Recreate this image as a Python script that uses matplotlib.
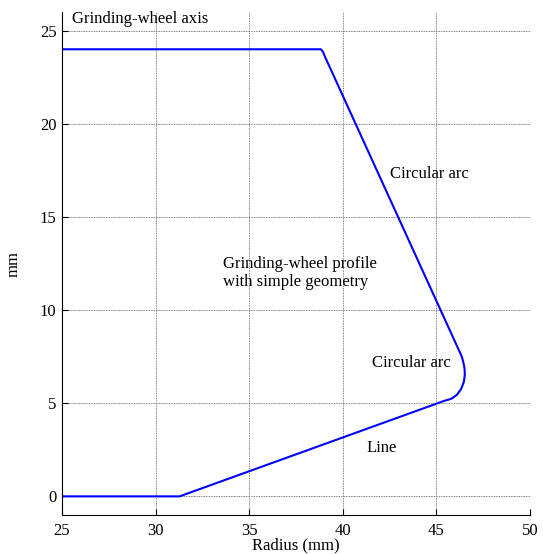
import matplotlib
matplotlib.use("Agg")
import matplotlib.pyplot as plt

plt.rcParams['font.family'] = ['Liberation Serif', 'DejaVu Serif']

# Profile points (radius mm, height mm)
profile_x = [25.0, 38.83, 38.95, 39.05, 46.36, 46.44, 46.50, 46.52, 46.47, 46.33, 46.10, 45.80, 45.40, 31.28, 25.0]
profile_y = [24.0, 24.0, 23.85, 23.6, 7.5, 7.2, 6.9, 6.55, 6.15, 5.78, 5.45, 5.24, 5.12, 0.0, 0.0]

x_ticks = [25, 30, 35, 40, 45, 50]
y_ticks = [0, 5, 10, 15, 20, 25]

fig = plt.figure(figsize=(5.43, 5.54), dpi=100)
ax = fig.add_axes([0.1142, 0.0704, 0.8618, 0.9079])
ax.plot(profile_x, profile_y, color='#0000ff', lw=1.5)

ax.set_xlim(25, 50)
ax.set_ylim(-1, 26)
ax.set_xticks(x_ticks)
ax.set_yticks(y_ticks)
ax.grid(True, color='0.35', ls=(0, (1, 1)), lw=0.6)
ax.spines['top'].set_visible(False)
ax.spines['right'].set_visible(False)
ax.tick_params(direction='in', length=4, labelsize=12, width=0.8)
ax.tick_params(axis='x', pad=6)
ax.tick_params(axis='y', pad=4)
ax.set_xlabel('Radius (mm)', fontsize=12, va='center')
ax.xaxis.set_label_coords(0.5, -0.061)
ax.set_ylabel('mm', fontsize=12, va='center')
ax.yaxis.set_label_coords(-0.103, 0.5)

fs = 12
ax.text(25.53, 25.6, 'Grinding-wheel axis', fontsize=fs, va='center', ha='left')
ax.text(42.5, 17.3, 'Circular arc', fontsize=fs, va='center', ha='left')
ax.text(33.62, 12.0, 'Grinding-wheel profile\nwith simple geometry', fontsize=fs, va='center', ha='left', linespacing=1.15)
ax.text(41.54, 7.15, 'Circular arc', fontsize=fs, va='center', ha='left')
ax.text(41.28, 2.58, 'Line', fontsize=fs, va='center', ha='left')

fig.savefig('out.png', dpi=100)
